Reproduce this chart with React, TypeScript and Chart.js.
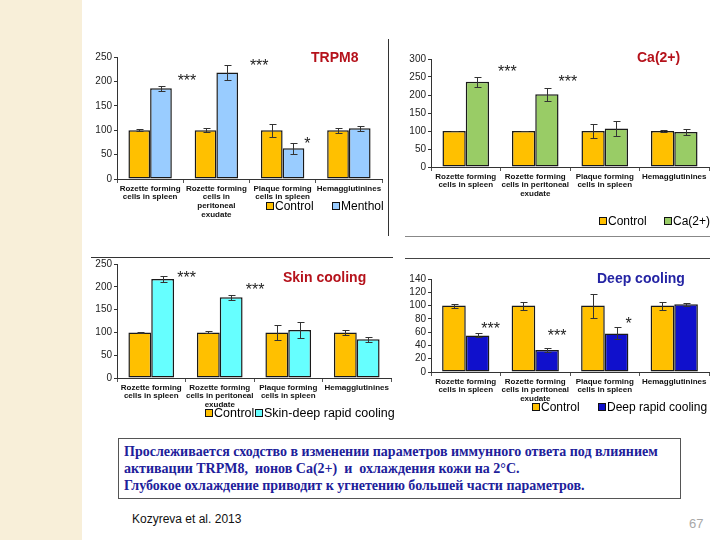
import React, { useEffect, useRef } from "react";
import { Chart, registerables } from "chart.js";

Chart.register(...registerables);

// ---------- data ----------
const labelsTRPM8 = [
  ["Rozette forming", "cells in spleen"],
  ["Rozette forming", "cells in", "peritoneal", "exudate"],
  ["Plaque forming", "cells in spleen"],
  ["Hemagglutinines"],
];
const labelsOther = [
  ["Rozette forming", "cells in spleen"],
  ["Rozette forming", "cells in peritoneal", "exudate"],
  ["Plaque forming", "cells in spleen"],
  ["Hemagglutinines"],
];

const trpm8Control = [100, 100, 100, 100];
const trpm8ControlErr = [2, 4, 13, 5];
const trpm8Menthol = [186, 218, 63, 104];
const trpm8MentholErr = [5, 16, 11, 5];
const trpm8Stars = ["***", "***", "*", ""];
const trpm8StarLevels = [209, 240, 81, 0];

const caControl = [100, 100, 100, 100];
const caControlErr = [1, 1, 20, 2];
const caCa = [237, 202, 107, 97];
const caCaErr = [14, 18, 21, 8];
const caStars = ["***", "***", "", ""];
const caStarLevels = [275, 248, 0, 0];

const skinControl = [100, 100, 100, 100];
const skinControlErr = [1, 2, 16, 5];
const skinCooling = [217, 177, 105, 85];
const skinCoolingErr = [7, 6, 17, 5];
const skinStars = ["***", "***", "", ""];
const skinStarLevels = [228, 201, 0, 0];

const deepControl = [100, 100, 100, 100];
const deepControlErr = [3, 6, 18, 6];
const deepCooling = [55, 33, 58, 102];
const deepCoolingErr = [3, 3, 9, 2];
const deepStars = ["***", "***", "*", ""];
const deepStarLevels = [71, 61, 79, 0];

const FONT = '"Liberation Sans", Arial, sans-serif';
const CONTROL = "#FFC000";

type Panel = {
  left: number; top: number; w: number; h: number;
  yW: number; padR: number; padT: number; xH: number;
  yMax: number; yStep: number;
  labels: string[][];
  series: number[][]; errs: number[][];
  names: string[]; colors: string[];
  stars: string[]; starLevels: number[]; starDx: number[];
  catPct: number;
};

const panels: Panel[] = [
  {
    left: 85, top: 45, w: 305, h: 185, yW: 32, padR: 8, padT: 12, xH: 51,
    yMax: 250, yStep: 50, labels: labelsTRPM8,
    series: [trpm8Control, trpm8Menthol], errs: [trpm8ControlErr, trpm8MentholErr],
    names: ["Control", "Menthol"], colors: [CONTROL, "#99CCFF"],
    stars: trpm8Stars, starLevels: trpm8StarLevels, starDx: [26, 32, 14, 0], catPct: 0.655,
  },
  {
    left: 395, top: 45, w: 320, h: 170, yW: 36, padR: 6, padT: 14, xH: 48,
    yMax: 300, yStep: 50, labels: labelsOther,
    series: [caControl, caCa], errs: [caControlErr, caCaErr],
    names: ["Control", "Ca(2+)"], colors: [CONTROL, "#99CC66"],
    stars: caStars, starLevels: caStarLevels, starDx: [30, 21, 0, 0], catPct: 0.67,
  },
  {
    left: 85, top: 255, w: 310, h: 168, yW: 32, padR: 4, padT: 9, xH: 45,
    yMax: 250, yStep: 50, labels: labelsOther,
    series: [skinControl, skinCooling], errs: [skinControlErr, skinCoolingErr],
    names: ["Control", "Skin-deep rapid cooling"], colors: [CONTROL, "#66FFFF"],
    stars: skinStars, starLevels: skinStarLevels, starDx: [24, 24, 0, 0], catPct: 0.667,
  },
  {
    left: 395, top: 268, w: 320, h: 150, yW: 36, padR: 6, padT: 11, xH: 46,
    yMax: 140, yStep: 20, labels: labelsOther,
    series: [deepControl, deepCooling], errs: [deepControlErr, deepCoolingErr],
    names: ["Control", "Deep rapid cooling"], colors: [CONTROL, "#1010CC"],
    stars: deepStars, starLevels: deepStarLevels, starDx: [13, 10, 12, 0], catPct: 0.68,
  },
];

function BarPanel({ p }: { p: Panel }) {
  const ref = useRef<HTMLCanvasElement>(null);
  useEffect(() => {
    const overlay = {
      id: "errorsAndStars",
      afterDatasetsDraw(chart: any) {
        const ctx = chart.ctx;
        const ys = chart.scales.y;
        ctx.save();
        ctx.strokeStyle = "#333";
        ctx.lineWidth = 1;
        chart.data.datasets.forEach((ds: any, di: number) => {
          const meta = chart.getDatasetMeta(di);
          meta.data.forEach((bar: any, i: number) => {
            const v = ds.data[i];
            const e = p.errs[di][i];
            const x = Math.round(bar.x) + 0.5;
            const y1 = Math.round(ys.getPixelForValue(v + e)) + 0.5;
            const y2 = Math.round(ys.getPixelForValue(v - e)) + 0.5;
            ctx.beginPath();
            ctx.moveTo(x, y1); ctx.lineTo(x, y2);
            ctx.moveTo(x - 3, y1); ctx.lineTo(x + 4, y1);
            ctx.moveTo(x - 3, y2); ctx.lineTo(x + 4, y2);
            ctx.stroke();
          });
        });
        const meta1 = chart.getDatasetMeta(1);
        const fs = 16;
        ctx.fillStyle = "#222";
        ctx.font = `${fs}px ${FONT}`;
        ctx.textAlign = "center";
        ctx.textBaseline = "alphabetic";
        p.stars.forEach((s, i) => {
          if (!s) return;
          const bar = meta1.data[i];
          const x = bar.x + p.starDx[i];
          const y = ys.getPixelForValue(p.starLevels[i]);
          ctx.fillText(s, x, y + 0.57 * fs);
        });
        ctx.restore();
      },
    };
    const chart = new Chart(ref.current as HTMLCanvasElement, {
      type: "bar",
      data: {
        labels: p.labels as any,
        datasets: p.series.map((s, i) => ({
          label: p.names[i],
          data: s,
          backgroundColor: p.colors[i],
          borderColor: "#1a1a1a",
          borderWidth: 1.5,
          borderSkipped: false,
          barPercentage: 1,
          categoryPercentage: p.catPct,
        })),
      },
      options: {
        responsive: false,
        animation: false,
        events: [],
        layout: { padding: { left: 0, right: p.padR, top: p.padT, bottom: 0 } },
        plugins: { legend: { display: false }, tooltip: { enabled: false }, title: { display: false } },
        scales: {
          x: {
            afterFit: (s: any) => { s.height = p.xH; },
            grid: { display: true, drawOnChartArea: false, drawTicks: true, tickLength: 4, color: "#555", offset: true },
            border: { display: true, color: "#333", width: 1 },
            ticks: {
              autoSkip: false, maxRotation: 0, minRotation: 0, padding: 1, color: "#111",
              font: { family: FONT, size: 8, weight: "bold", lineHeight: 1.1 },
            },
          },
          y: {
            min: 0, max: p.yMax,
            afterFit: (s: any) => { s.width = p.yW; },
            grid: { display: true, drawOnChartArea: false, drawTicks: true, tickLength: 3, color: "#333" },
            border: { display: true, color: "#333", width: 1 },
            ticks: { stepSize: p.yStep, autoSkip: false, padding: 2, color: "#222", font: { family: FONT, size: 10 } },
          },
        },
      },
      plugins: [overlay],
    } as any);
    return () => chart.destroy();
  }, [p]);
  return (
    <canvas
      ref={ref}
      width={p.w}
      height={p.h}
      style={{ position: "absolute", left: p.left, top: p.top, width: p.w, height: p.h }}
    />
  );
}

function Title({ text, left, top, color }: { text: string; left: number; top: number; color: string }) {
  return (
    <div style={{ position: "absolute", left, top, font: `bold 14px ${FONT}`, lineHeight: "14px", color, whiteSpace: "nowrap" }}>
      {text}
    </div>
  );
}

function LegendItem({ text, left, cy, color, size }: { text: string; left: number; cy: number; color: string; size?: number }) {
  const fs = size || 12;
  return (
    <div style={{ position: "absolute", left, top: cy - fs / 2, height: fs, display: "flex", alignItems: "center", whiteSpace: "nowrap" }}>
      <div style={{ width: 6, height: 6, background: color, border: "1px solid #111", marginRight: 1 }} />
      <span style={{ font: `${fs}px ${FONT}`, lineHeight: `${fs}px`, color: "#000" }}>{text}</span>
    </div>
  );
}

export default function App() {
  return (
    <div style={{ position: "absolute", left: 0, top: 0, width: 720, height: 540, background: "#fff", overflow: "hidden", fontFamily: FONT }}>
      <div style={{ position: "absolute", left: 0, top: 0, width: 82, height: 540, background: "#f8efd9" }} />
      {panels.map((p, i) => <BarPanel key={i} p={p} />)}

      <div style={{ position: "absolute", left: 388, top: 39, width: 1, height: 197, background: "#333" }} />
      <div style={{ position: "absolute", left: 405, top: 236, width: 305, height: 1, background: "#888" }} />
      <div style={{ position: "absolute", left: 405, top: 258, width: 305, height: 1, background: "#444" }} />
      <div style={{ position: "absolute", left: 91, top: 257, width: 302, height: 1, background: "#333" }} />

      <Title text="TRPM8" left={311} top={50} color="#b5121b" />
      <Title text="Ca(2+)" left={637} top={50} color="#b5121b" />
      <Title text="Skin cooling" left={283} top={270} color="#b5121b" />
      <Title text="Deep cooling" left={597} top={271} color="#2424a4" />

      <LegendItem text="Control" left={266} cy={206} color={CONTROL} />
      <LegendItem text="Menthol" left={332} cy={206} color="#99CCFF" />
      <LegendItem text="Control" left={599} cy={221} color={CONTROL} />
      <LegendItem text="Ca(2+)" left={664} cy={221} color="#99CC66" />
      <LegendItem text="Control" left={205} cy={413} color={CONTROL} size={12.5} />
      <LegendItem text="Skin-deep rapid cooling" left={255} cy={413} color="#66FFFF" size={12.5} />
      <LegendItem text="Control" left={532} cy={407} color={CONTROL} />
      <LegendItem text="Deep rapid cooling" left={598} cy={407} color="#1010CC" />

      <div
        style={{
          position: "absolute", left: 118, top: 438, width: 563, height: 61, boxSizing: "border-box",
          border: "1.5px solid #555", padding: "4px 0 0 5px",
          font: 'bold 14px "Liberation Serif", "Times New Roman", serif', lineHeight: "17px", color: "#20209a",
        }}
      >
        <div style={{ whiteSpace: "nowrap" }}>Прослеживается сходство в изменении параметров иммунного ответа под влиянием</div>
        <div style={{ whiteSpace: "pre" }}>активации TRPM8,  ионов Ca(2+)  и  охлаждения кожи на 2°C.</div>
        <div style={{ whiteSpace: "nowrap" }}>Глубокое охлаждение приводит к угнетению большей части параметров.</div>
      </div>

      <div style={{ position: "absolute", left: 132, top: 512, font: `12px ${FONT}`, lineHeight: "14px", color: "#111" }}>
        Kozyreva et al. 2013
      </div>
      <div style={{ position: "absolute", left: 689, top: 517, font: `13px ${FONT}`, lineHeight: "14px", color: "#a8a8a8" }}>
        67
      </div>
    </div>
  );
}
